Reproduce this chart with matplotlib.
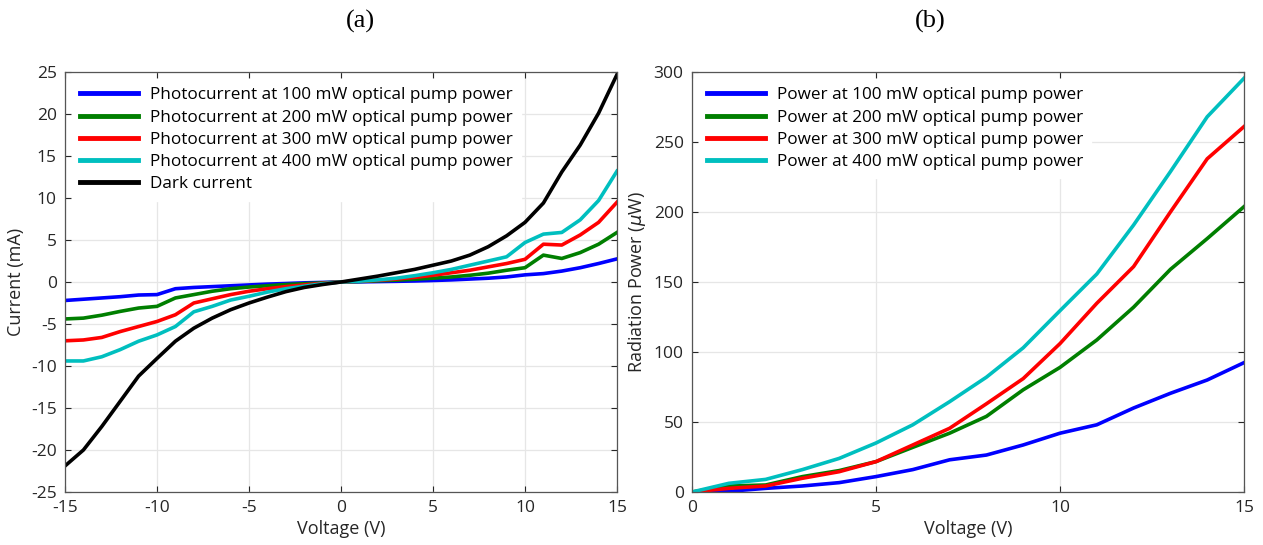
import matplotlib
matplotlib.use("Agg")
import matplotlib.pyplot as plt
import numpy as np

# ---------------- data ----------------
voltage_a = list(range(-15, 16))
photo_100 = [-2.2, -2.05, -1.9, -1.75, -1.55, -1.5, -0.8, -0.65, -0.55, -0.45, -0.35, -0.25, -0.18, -0.1, -0.05,
             0.0, 0.02, 0.05, 0.08, 0.12, 0.18, 0.25, 0.35, 0.45, 0.6, 0.85, 1.0, 1.3, 1.7, 2.2, 2.75]
photo_200 = [-4.4, -4.3, -3.95, -3.5, -3.1, -2.9, -1.9, -1.5, -1.1, -0.8, -0.6, -0.45, -0.3, -0.2, -0.1,
             0.0, 0.06, 0.14, 0.22, 0.33, 0.45, 0.6, 0.8, 1.05, 1.4, 1.7, 3.2, 2.8, 3.5, 4.5, 5.9]
photo_300 = [-7.0, -6.9, -6.6, -5.9, -5.3, -4.7, -3.9, -2.5, -2.0, -1.5, -1.1, -0.8, -0.55, -0.35, -0.15,
             0.0, 0.1, 0.2, 0.35, 0.55, 0.8, 1.1, 1.4, 1.8, 2.2, 2.7, 4.5, 4.4, 5.6, 7.1, 9.5]
photo_400 = [-9.4, -9.4, -8.9, -8.05, -7.05, -6.3, -5.3, -3.55, -2.9, -2.15, -1.7, -1.2, -0.8, -0.5, -0.2,
             0.0, 0.1, 0.25, 0.45, 0.75, 1.1, 1.5, 2.0, 2.5, 3.0, 4.7, 5.7, 5.9, 7.4, 9.7, 13.2]
dark = [-21.9, -20.0, -17.2, -14.2, -11.2, -9.1, -7.05, -5.5, -4.3, -3.3, -2.5, -1.8, -1.15, -0.65, -0.3,
        0.0, 0.35, 0.7, 1.1, 1.5, 2.0, 2.5, 3.2, 4.2, 5.5, 7.1, 9.4, 13.1, 16.3, 20.1, 24.7]

voltage_b = list(range(0, 16))
power_100 = [0, 0.5, 2.6, 4.3, 6.7, 11, 16, 23, 26.4, 33.6, 42, 48, 60, 70.5, 80, 92.4]
power_200 = [0, 4.3, 5, 11, 15.3, 21.7, 31.9, 42, 54, 73, 89, 108.6, 132, 159, 181, 203.8]
power_300 = [0, 2.6, 4.3, 9.8, 14.5, 21.7, 33.6, 45.5, 63, 81, 106, 134.8, 161, 200, 238, 261]
power_400 = [0, 6.2, 9, 16, 24, 35, 48, 64.5, 82, 103, 129.5, 155.7, 190.7, 228.8, 268, 295.5]

labels_a = ["Photocurrent at 100 mW optical pump power",
            "Photocurrent at 200 mW optical pump power",
            "Photocurrent at 300 mW optical pump power",
            "Photocurrent at 400 mW optical pump power",
            "Dark current"]
labels_b = ["Power at 100 mW optical pump power",
            "Power at 200 mW optical pump power",
            "Power at 300 mW optical pump power",
            "Power at 400 mW optical pump power"]

colors = ["#0000ff", "#007f00", "#ff0000", "#00bfbf", "#000000"]

# ---------------- plotting ----------------
plt.rcParams['font.family'] = ['Open Sans', 'DejaVu Sans']
plt.rcParams['axes.unicode_minus'] = False
fig = plt.figure(figsize=(12.63, 5.45), dpi=100)
axa = fig.add_axes([65/1263, 1-492/545, (617-65)/1263, (492-72)/545])
axb = fig.add_axes([692/1263, 1-492/545, (1244-692)/1263, (492-72)/545])

lw = 2.6
for y, c, l in zip([photo_100, photo_200, photo_300, photo_400, dark], colors, labels_a):
    axa.plot(voltage_a, y, color=c, lw=lw, label=l)
for y, c, l in zip([power_100, power_200, power_300, power_400], colors, labels_b):
    axb.plot(voltage_b, y, color=c, lw=lw, label=l)

axa.set_xlim(-15, 15)
axa.set_ylim(-25, 25)
axa.set_xticks(range(-15, 16, 5))
axa.set_yticks(range(-25, 26, 5))
axa.set_xlabel("Voltage (V)", fontsize=13, color="#262626", labelpad=3)
axa.set_ylabel("Current (mA)", fontsize=13, color="#262626", labelpad=4)

axb.set_xlim(0, 15)
axb.set_ylim(0, 300)
axb.set_xticks(range(0, 16, 5))
axb.set_yticks(range(0, 301, 50))
axb.set_xlabel("Voltage (V)", fontsize=13, color="#262626", labelpad=3)
axb.set_ylabel(r"Radiation Power ($\mu$W)", fontsize=13, color="#262626", labelpad=4)

for ax in (axa, axb):
    ax.grid(True, color="#e6e6e6", lw=0.9)
    ax.set_axisbelow(True)
    ax.tick_params(direction="in", top=True, right=True, labelsize=12.5,
                   colors="#262626", length=4, width=0.8, pad=6)
    for s in ax.spines.values():
        s.set_color("#555555")
        s.set_linewidth(0.9)
    leg = ax.legend(loc="upper left", fontsize=12.3, frameon=True, fancybox=False,
                    handlelength=3.4, handletextpad=0.65, borderaxespad=0.4,
                    labelspacing=0.36, borderpad=0.5)
    leg.get_frame().set_edgecolor("white")
    leg.get_frame().set_alpha(1.0)
    for line in leg.get_lines():
        line.set_linewidth(3.5)

fig.text(360/1263, 1-21/545, "(a)", family="Liberation Serif", fontsize=19,
         ha="center", va="center")
fig.text(930/1263, 1-21/545, "(b)", family="Liberation Serif", fontsize=19,
         ha="center", va="center")

fig.savefig("out.png", dpi=100)
